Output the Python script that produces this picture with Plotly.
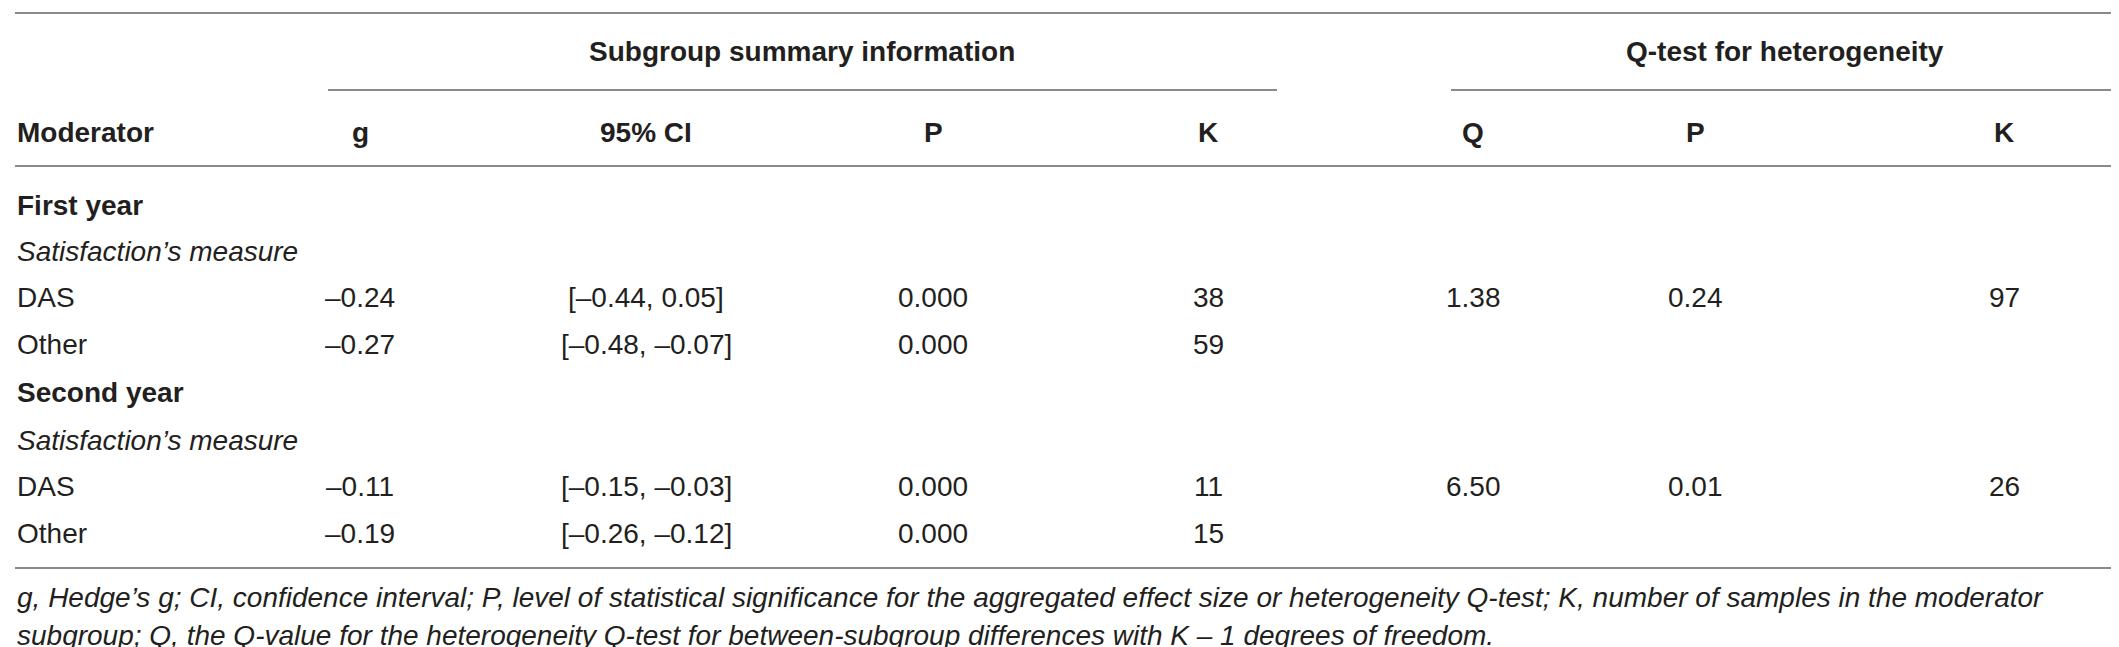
import plotly.graph_objects as go

# table content
group_headers = ["Subgroup summary information", "Q-test for heterogeneity"]
col_headers = ["Moderator", "g", "95% CI", "P", "K", "Q", "P", "K"]

row_labels = ["First year", "Satisfaction’s measure", "DAS", "Other",
              "Second year", "Satisfaction’s measure", "DAS", "Other"]
row_kind = ["group", "sub", "item", "item", "group", "sub", "item", "item"]

g_vals = [None, None, -0.24, -0.27, None, None, -0.11, -0.19]
ci_low = [None, None, -0.44, -0.48, None, None, -0.15, -0.26]
ci_high = [None, None, 0.05, -0.07, None, None, -0.03, -0.12]
p_vals = [None, None, 0.000, 0.000, None, None, 0.000, 0.000]
k_vals = [None, None, 38, 59, None, None, 11, 15]
q_vals = [None, None, 1.38, None, None, None, 6.50, None]
q_p_vals = [None, None, 0.24, None, None, None, 0.01, None]
q_k_vals = [None, None, 97, None, None, None, 26, None]

footnote = [
    "g, Hedge’s g; CI, confidence interval; P, level of statistical significance for the aggregated effect size or heterogeneity Q-test; K, number of samples in the moderator",
    "subgroup; Q, the Q-value for the heterogeneity Q-test for between-subgroup differences with K – 1 degrees of freedom.",
]

FONT = "Liberation Sans, Arial, Helvetica, sans-serif"
INK = "#231f20"
RULE = "#8a8a8a"


def fmt(v, nd=2):
    if v is None:
        return ""
    s = f"{abs(v):.{nd}f}"
    return ("–" + s) if v < 0 else s


# layout positions (pixels)
col_x = [7, 352, 638, 925, 1200, 1465, 1687, 1996]
group_x = [794, 1777]
row_y = [197, 243, 289, 336, 384, 432, 478, 525]

fig = go.Figure()
ann = []


def add(text, x, y, size=28, bold=False, italic=False, anchor="center"):
    ann.append(dict(
        text=text, x=x, y=y, xref="x", yref="y", showarrow=False,
        xanchor=anchor, yanchor="middle",
        font=dict(family=FONT, size=size, color=INK,
                  weight="bold" if bold else "normal",
                  style="italic" if italic else "normal"),
    ))


for h, x in zip(group_headers, group_x):
    add(h, x, 43, bold=True)

for i, h in enumerate(col_headers):
    add(h, col_x[i], 124, bold=True, anchor="left" if i == 0 else "center")

for r, label in enumerate(row_labels):
    kind = row_kind[r]
    add(label, col_x[0], row_y[r], bold=(kind == "group"),
        italic=(kind == "sub"), anchor="left")
    if kind != "item":
        continue
    ci = f"[{fmt(ci_low[r])}, {fmt(ci_high[r])}]"
    cells = [fmt(g_vals[r]), ci, fmt(p_vals[r], 3),
             "" if k_vals[r] is None else str(k_vals[r]),
             fmt(q_vals[r]), fmt(q_p_vals[r]),
             "" if q_k_vals[r] is None else str(q_k_vals[r])]
    for c, txt in enumerate(cells):
        if txt:
            add(txt, col_x[c + 1], row_y[r])

for i, line in enumerate(footnote):
    add(line, 7, [589, 627][i], size=28, italic=True, anchor="left")

rules = [(7, 2112, 5), (320, 1269, 82), (1443, 2112, 82),
         (7, 2112, 158), (7, 2112, 560)]
shapes = [dict(type="line", xref="x", yref="y", x0=a, x1=b, y0=y, y1=y,
               line=dict(color=RULE, width=2)) for a, b, y in rules]

fig.update_layout(
    width=2119, height=647,
    margin=dict(l=0, r=0, t=0, b=0),
    paper_bgcolor="white", plot_bgcolor="white",
    xaxis=dict(range=[0, 2119], visible=False, fixedrange=True),
    yaxis=dict(range=[647, 0], visible=False, fixedrange=True),
    annotations=ann, shapes=shapes, showlegend=False,
)

fig.write_html("out.html")
